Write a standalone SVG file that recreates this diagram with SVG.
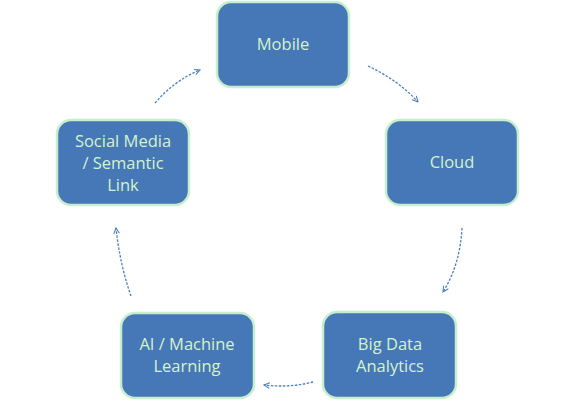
<svg xmlns="http://www.w3.org/2000/svg" width="576" height="405" viewBox="0 0 576 405">
<defs>
<style>
.box{fill:#4677b6;stroke:#c6efce;stroke-width:2.5}
.lbl{font-family:"Open Sans","Liberation Sans",sans-serif;font-size:16.5px;fill:#d4f3cc;text-anchor:middle}
.conn{fill:none;stroke:#4a7ebb;stroke-width:1.3;stroke-dasharray:2.5 1.5}
</style>
<marker id="ah" viewBox="0 0 10 10" refX="9" refY="5" markerWidth="7" markerHeight="7" orient="auto" markerUnits="userSpaceOnUse">
<path d="M1,1 L9,5 L1,9" fill="none" stroke="#4a7ebb" stroke-width="1.5"/>
</marker>
</defs>
<rect width="576" height="405" fill="#ffffff"/>
<g id="connectors">
<path class="conn" d="M368,66 Q398,80 418,102" marker-end="url(#ah)"/>
<path class="conn" d="M462,228 Q460,265 443,292" marker-end="url(#ah)"/>
<path class="conn" d="M313,382 Q290,388 264,385" marker-end="url(#ah)"/>
<path class="conn" d="M131,296 Q120,265 116,228" marker-end="url(#ah)"/>
<path class="conn" d="M155,103 Q175,80 200,70" marker-end="url(#ah)"/>
</g>
<g id="mobile">
<rect class="box" x="217" y="2" width="132" height="85" rx="14"/>
<text class="lbl" x="283" y="50">Mobile</text>
</g>
<g id="cloud">
<rect class="box" x="386" y="120" width="132" height="85" rx="14"/>
<text class="lbl" x="452" y="168">Cloud</text>
</g>
<g id="bigdata">
<rect class="box" x="323" y="312" width="133" height="86" rx="14"/>
<text class="lbl" x="390" y="350">Big Data</text>
<text class="lbl" x="390" y="372">Analytics</text>
</g>
<g id="ai">
<rect class="box" x="121" y="313" width="133" height="85" rx="14"/>
<text class="lbl" x="187" y="350">AI / Machine</text>
<text class="lbl" x="187" y="372">Learning</text>
</g>
<g id="social">
<rect class="box" x="57" y="120" width="132" height="85" rx="14"/>
<text class="lbl" x="123" y="147">Social Media</text>
<text class="lbl" x="123" y="169">/ Semantic</text>
<text class="lbl" x="123" y="191">Link</text>
</g>
</svg>
